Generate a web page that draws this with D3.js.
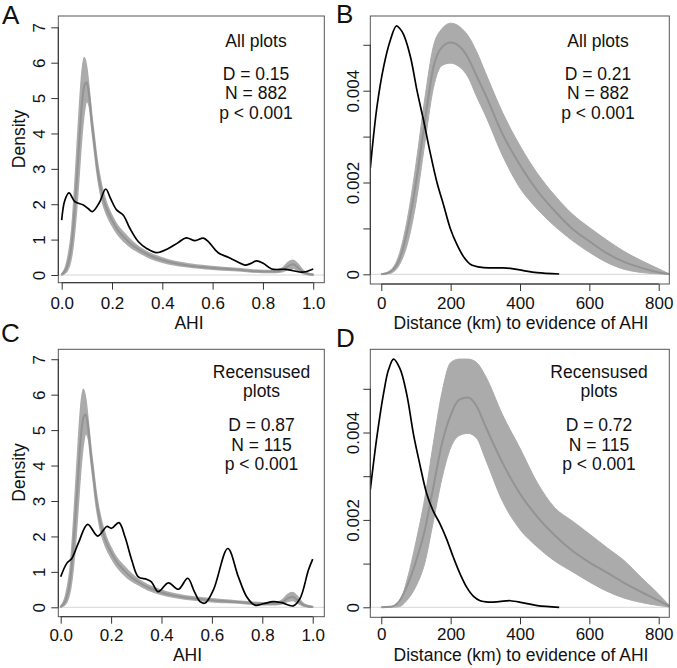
<!DOCTYPE html>
<html><head><meta charset="utf-8">
<script src="https://cdn.jsdelivr.net/npm/d3@7"></script>
<style>
body{margin:0;background:#fff}
text{font-family:"Liberation Sans",Arial,Helvetica,sans-serif;fill:#111}
</style>
</head><body>
<svg id="c" width="677" height="668"></svg>
<script>
// ---------------- DATA ----------------
// AHI (panels A, C): null-model band (grey) on a common grid
const ahiGrid      = [0,0.02,0.04,0.05,0.06,0.07,0.08,0.09,0.1,0.11,0.12,0.13,0.14,0.15,0.16,0.18,0.2,0.22,0.25,0.28,0.3,0.35,0.4,0.45,0.5,0.6,0.7,0.8,0.85,0.88,0.9,0.92,0.94,0.96,0.98,1.0];
const ahiNullMean  = [0.01,0.2,0.9,1.7,2.7,3.8,4.8,5.35,5.45,5.0,4.3,3.7,3.1,2.65,2.3,1.85,1.55,1.3,1.05,0.85,0.75,0.55,0.42,0.33,0.27,0.2,0.15,0.1,0.1,0.15,0.25,0.3,0.2,0.08,0.03,0.01];
const ahiNullUpper = [0.03,0.35,1.3,2.3,3.5,4.7,5.7,6.15,5.85,5.2,4.5,3.9,3.3,2.85,2.5,2.0,1.68,1.42,1.17,0.95,0.83,0.62,0.48,0.38,0.32,0.24,0.18,0.13,0.13,0.21,0.36,0.42,0.3,0.13,0.05,0.02];
const ahiNullLower = [0,0.1,0.55,1.1,1.9,2.9,3.9,4.6,4.9,4.75,4.1,3.5,2.9,2.45,2.1,1.68,1.4,1.17,0.93,0.75,0.67,0.48,0.36,0.28,0.23,0.16,0.12,0.07,0.07,0.1,0.16,0.19,0.12,0.04,0.01,0];

// AHI observed density, all plots (A)
const ahiAllX = [0,0.012,0.029,0.053,0.086,0.105,0.122,0.15,0.175,0.195,0.218,0.245,0.271,0.305,0.338,0.377,0.424,0.46,0.495,0.53,0.563,0.583,0.622,0.662,0.696,0.729,0.75,0.775,0.801,0.835,0.888,0.92,0.954,0.974,1.0];
const ahiAllY = [1.55,2.1,2.32,2.07,1.98,1.88,1.79,2.05,2.43,2.15,1.84,1.69,1.32,0.94,0.75,0.63,0.75,0.9,1.05,0.97,1.04,0.94,0.63,0.5,0.38,0.28,0.32,0.40,0.33,0.17,0.16,0.12,0.08,0.1,0.17];

// AHI observed density, recensused plots (C)
const ahiRecX = [0,0.024,0.044,0.07,0.107,0.147,0.183,0.202,0.231,0.255,0.282,0.308,0.341,0.36,0.387,0.427,0.467,0.504,0.53,0.553,0.573,0.606,0.663,0.705,0.738,0.771,0.804,0.844,0.877,0.923,0.95,0.983,1.0];
const ahiRecY = [0.86,1.24,1.38,1.81,2.34,2.01,2.28,2.23,2.39,1.99,1.33,0.86,0.79,0.72,0.44,0.69,0.51,0.82,0.45,0.16,0.12,0.49,1.66,0.86,0.30,0.06,0.1,0.16,0.13,0.04,0.25,1.05,1.36];

// Distance (km): null-model bands on a common grid
const distGrid     = [0,25,50,75,100,125,150,175,200,225,250,275,300,350,400,450,500,550,600,650,700,750,800,830];
const distAllMean  = [0,0.05e-3,0.28e-3,0.95e-3,2.0e-3,3.3e-3,4.5e-3,4.95e-3,5.05e-3,4.97e-3,4.72e-3,4.32e-3,3.92e-3,3.05e-3,2.38e-3,1.82e-3,1.38e-3,1.0e-3,0.72e-3,0.46e-3,0.27e-3,0.14e-3,0.04e-3,0.005e-3];
const distAllUpper = [0.01e-3,0.08e-3,0.4e-3,1.2e-3,2.4e-3,3.8e-3,4.96e-3,5.35e-3,5.47e-3,5.4e-3,5.2e-3,4.85e-3,4.4e-3,3.52e-3,2.8e-3,2.2e-3,1.72e-3,1.32e-3,1.02e-3,0.75e-3,0.5e-3,0.3e-3,0.12e-3,0.01e-3];
const distAllLower = [0,0.02e-3,0.18e-3,0.65e-3,1.55e-3,2.82e-3,4.05e-3,4.55e-3,4.6e-3,4.52e-3,4.3e-3,3.87e-3,3.47e-3,2.58e-3,1.88e-3,1.42e-3,1.05e-3,0.74e-3,0.48e-3,0.26e-3,0.11e-3,0.04e-3,0.01e-3,0];
const distRecMean  = [0,0.01e-3,0.12e-3,0.5e-3,1.05e-3,1.75e-3,2.75e-3,3.75e-3,4.4e-3,4.75e-3,4.8e-3,4.6e-3,4.15e-3,3.3e-3,2.6e-3,2.07e-3,1.65e-3,1.3e-3,1.03e-3,0.8e-3,0.56e-3,0.35e-3,0.15e-3,0.02e-3];
const distRecUpper = [0,0.01e-3,0.08e-3,0.65e-3,1.5e-3,2.48e-3,3.75e-3,4.92e-3,5.6e-3,5.68e-3,5.68e-3,5.6e-3,5.3e-3,4.4e-3,3.64e-3,2.85e-3,2.28e-3,1.98e-3,1.68e-3,1.37e-3,1.07e-3,0.68e-3,0.3e-3,0.05e-3];
const distRecLower = [0,0,0.01e-3,0.17e-3,0.48e-3,1.0e-3,1.96e-3,2.95e-3,3.65e-3,3.93e-3,3.98e-3,3.87e-3,3.4e-3,2.42e-3,1.78e-3,1.38e-3,1.06e-3,0.82e-3,0.58e-3,0.37e-3,0.21e-3,0.11e-3,0.04e-3,0.01e-3];

// Distance observed densities
const distAllX = [-31.7,-12.5,6.7,26,43.3,54,64.4,83.7,103,122,141,160.6,180,199,218,237.5,256.7,290,340,372,410,449,513];
const distAllY = [2.31e-3,3.65e-3,4.52e-3,5.10e-3,5.41e-3,5.35e-3,5.22e-3,4.75e-3,4.0e-3,3.35e-3,2.65e-3,2.0e-3,1.5e-3,1.0e-3,0.65e-3,0.38e-3,0.22e-3,0.15e-3,0.14e-3,0.13e-3,0.08e-3,0.036e-3,0.007e-3];
const distRecX = [-31.7,-12.5,6.7,21,35.6,54.5,74,93,112,131,150,170,189,208,228,247,266,285,310,340,372,410,450,513];
const distRecY = [2.69e-3,3.91e-3,4.90e-3,5.44e-3,5.68e-3,5.45e-3,4.85e-3,3.95e-3,3.24e-3,2.6e-3,2.2e-3,1.9e-3,1.55e-3,1.14e-3,0.75e-3,0.45e-3,0.25e-3,0.15e-3,0.12e-3,0.13e-3,0.15e-3,0.1e-3,0.04e-3,0];

// Ticks and labels
const ahiTicks       = [0,0.2,0.4,0.6,0.8,1.0];
const ahiTickLabels  = ["0.0","0.2","0.4","0.6","0.8","1.0"];
const ahiDensTicks   = [0,1,2,3,4,5,6,7];
const distTicks      = [0,200,400,600,800];
const distDensTicks  = [0,0.001,0.002,0.003,0.004,0.005];
const distDensLabels = ["0","","0.002","","0.004",""];

const annotA = {head:["All plots"], stats:["D = 0.15","N = 882","p < 0.001"]};
const annotB = {head:["All plots"], stats:["D = 0.21","N = 882","p < 0.001"]};
const annotC = {head:["Recensused","plots"], stats:["D = 0.87","N = 115","p < 0.001"]};
const annotD = {head:["Recensused","plots"], stats:["D = 0.72","N = 115","p < 0.001"]};

// ---------------- DRAW ----------------
const svg = d3.select("#c");
const FS = 17.5;
const TFS = 17;

function drawPanel(p) {
  const b = p.box;
  const x = d3.scaleLinear().domain(p.xDomain).range([b.l, b.r]);
  const y = d3.scaleLinear().domain(p.yDomain).range([b.b, b.t]);
  const g = svg.append("g");
  const cid = "clip" + p.id;
  svg.append("clipPath").attr("id", cid).append("rect")
    .attr("x", b.l).attr("y", b.t).attr("width", b.r - b.l).attr("height", b.b - b.t);
  const pg = g.append("g").attr("clip-path", `url(#${cid})`);

  // zero line
  pg.append("line").attr("x1", b.l).attr("x2", b.r).attr("y1", y(0)).attr("y2", y(0))
    .attr("stroke", "#d6d6d6").attr("stroke-width", 1);

  // null band
  const band = p.grid.map((v, i) => ({x: v, lo: p.lower[i], hi: p.upper[i], m: p.mean[i]}));
  pg.append("path").datum(band)
    .attr("d", d3.area().x(d => x(d.x)).y0(d => y(d.lo)).y1(d => y(d.hi)).curve(d3.curveMonotoneX))
    .attr("fill", "#ababab").attr("stroke", "#ababab").attr("stroke-width", p.bandStroke);
  pg.append("path").datum(band)
    .attr("d", d3.line().x(d => x(d.x)).y(d => y(d.m)).curve(d3.curveMonotoneX))
    .attr("fill", "none").attr("stroke", "#939393").attr("stroke-width", 2);

  // observed
  const obs = p.obsX.map((v, i) => [v, p.obsY[i]]);
  pg.append("path").datum(obs)
    .attr("d", d3.line().x(d => x(d[0])).y(d => y(d[1])).curve(d3.curveCatmullRom.alpha(0.5)))
    .attr("fill", "none").attr("stroke", "#000").attr("stroke-width", 1.7);

  // box
  g.append("rect").attr("x", b.l).attr("y", b.t).attr("width", b.r - b.l).attr("height", b.b - b.t)
    .attr("fill", "none").attr("stroke", "#555").attr("stroke-width", 1);

  // x axis
  const xa = g.append("g").attr("transform", `translate(0,${b.b})`)
    .call(d3.axisBottom(x).tickValues(p.xTicks).tickSize(7).tickFormat((d, i) => p.xLabels[i]));
  xa.select(".domain").remove();
  xa.append("line").attr("x1", x(p.xTicks[0])).attr("x2", x(p.xTicks[p.xTicks.length - 1]))
    .attr("stroke", "#333");
  xa.selectAll(".tick line").attr("stroke", "#333");
  xa.selectAll("text").attr("y", p.xLabelBase - b.b).attr("dy", 0)
    .style("font-size", TFS + "px").attr("fill", "#111");

  // y axis
  const ya = g.append("g").attr("transform", `translate(${b.l},0)`)
    .call(d3.axisLeft(y).tickValues(p.yTicks).tickSize(7).tickFormat((d, i) => p.yLabels[i]));
  ya.select(".domain").remove();
  ya.append("line").attr("y1", y(p.yTicks[0])).attr("y2", y(p.yTicks[p.yTicks.length - 1]))
    .attr("stroke", "#333");
  ya.selectAll(".tick line").attr("stroke", "#333");
  ya.selectAll("text").attr("x", 0).attr("y", 0).attr("dy", 0)
    .attr("text-anchor", "middle")
    .attr("transform", `translate(${p.yLabelBase - b.l},0) rotate(-90)`)
    .style("font-size", TFS + "px").attr("fill", "#111");

  // axis titles
  g.append("text").attr("x", p.xTitlePos[0]).attr("y", p.xTitlePos[1])
    .attr("text-anchor", "middle").style("font-size", FS + "px").text(p.xTitle);
  if (p.yTitle) {
    g.append("text").attr("transform", `translate(${p.yTitlePos[0]},${p.yTitlePos[1]}) rotate(-90)`)
      .attr("text-anchor", "middle").style("font-size", FS + "px").text(p.yTitle);
  }

  // annotation
  p.annot.head.forEach((t, i) => {
    g.append("text").attr("x", p.annotX).attr("y", p.annotHeadY + i * 19)
      .attr("text-anchor", "middle").style("font-size", FS + "px").text(t);
  });
  p.annot.stats.forEach((t, i) => {
    g.append("text").attr("x", p.annotX).attr("y", p.annotStatY + i * 19.7)
      .attr("text-anchor", "middle").style("font-size", FS + "px").text(t);
  });

  // panel letter
  svg.append("text").attr("x", p.letterPos[0]).attr("y", p.letterPos[1])
    .style("font-size", "26px").text(p.letter);
}

drawPanel({
  id: "A", letter: "A", letterPos: [2, 24],
  box: {l: 58.3, r: 324.3, t: 16, b: 282.7},
  xDomain: [-0.0135, 1.044], yDomain: [-0.218, 7.32],
  grid: ahiGrid, mean: ahiNullMean, upper: ahiNullUpper, lower: ahiNullLower, bandStroke: 1.5,
  obsX: ahiAllX, obsY: ahiAllY,
  xTicks: ahiTicks, xLabels: ahiTickLabels, xLabelBase: 309,
  yTicks: ahiDensTicks, yLabels: ahiDensTicks.map(String), yLabelBase: 45,
  xTitle: "AHI", xTitlePos: [189, 328.5],
  yTitle: "Density", yTitlePos: [24.5, 139],
  annot: annotA, annotX: 256, annotHeadY: 46.5, annotStatY: 79.5
});
drawPanel({
  id: "B", letter: "B", letterPos: [336, 23],
  box: {l: 370.3, r: 669.3, t: 16, b: 284},
  xDomain: [-31.7, 830.6], yDomain: [-0.211e-3, 5.627e-3],
  grid: distGrid, mean: distAllMean, upper: distAllUpper, lower: distAllLower, bandStroke: 1,
  obsX: distAllX, obsY: distAllY,
  xTicks: distTicks, xLabels: distTicks.map(String), xLabelBase: 308.5,
  yTicks: distDensTicks, yLabels: distDensLabels, yLabelBase: 358.7,
  xTitle: "Distance (km) to evidence of AHI", xTitlePos: [521, 328.5],
  yTitle: null,
  annot: annotB, annotX: 598, annotHeadY: 46.5, annotStatY: 79.5
});
drawPanel({
  id: "C", letter: "C", letterPos: [1, 342],
  box: {l: 58.3, r: 324.3, t: 349.3, b: 616.7},
  xDomain: [-0.0095, 1.046], yDomain: [-0.265, 7.28],
  grid: ahiGrid, mean: ahiNullMean, upper: ahiNullUpper, lower: ahiNullLower, bandStroke: 1.5,
  obsX: ahiRecX, obsY: ahiRecY,
  xTicks: ahiTicks, xLabels: ahiTickLabels, xLabelBase: 641,
  yTicks: ahiDensTicks, yLabels: ahiDensTicks.map(String), yLabelBase: 45,
  xTitle: "AHI", xTitlePos: [187.5, 660.5],
  yTitle: "Density", yTitlePos: [24.5, 472.5],
  annot: annotC, annotX: 261.5, annotHeadY: 378.3, annotStatY: 430.8
});
drawPanel({
  id: "D", letter: "D", letterPos: [336, 347],
  box: {l: 370.3, r: 669.3, t: 349.3, b: 617.3},
  xDomain: [-31.7, 830.6], yDomain: [-0.229e-3, 5.904e-3],
  grid: distGrid, mean: distRecMean, upper: distRecUpper, lower: distRecLower, bandStroke: 1,
  obsX: distRecX, obsY: distRecY,
  xTicks: distTicks, xLabels: distTicks.map(String), xLabelBase: 640,
  yTicks: distDensTicks, yLabels: distDensLabels, yLabelBase: 358.7,
  xTitle: "Distance (km) to evidence of AHI", xTitlePos: [521, 661],
  yTitle: null,
  annot: annotD, annotX: 599, annotHeadY: 378.3, annotStatY: 430.8
});
</script>
</body></html>
